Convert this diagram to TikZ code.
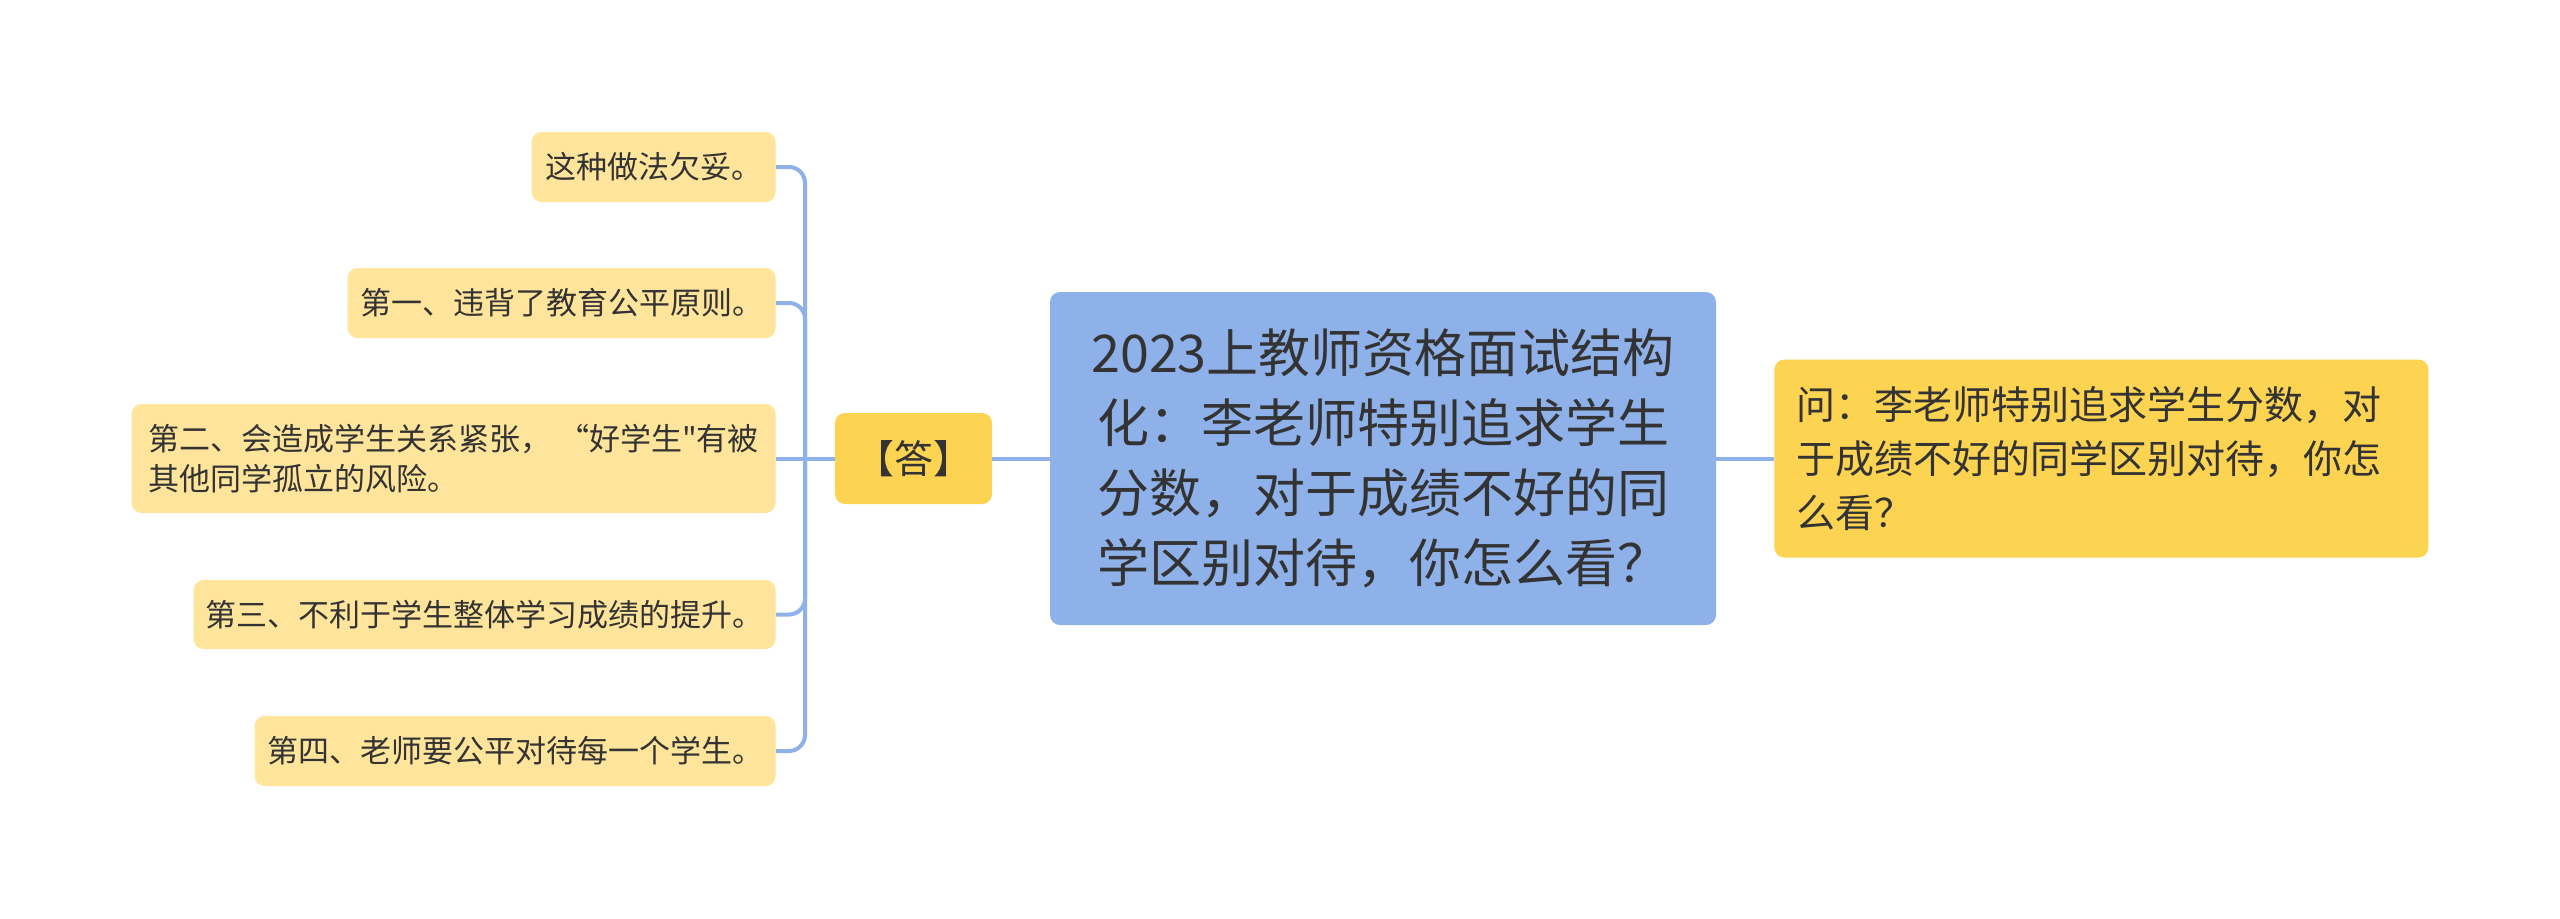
\documentclass[tikz,border=0pt]{standalone}
\usepackage{fontspec}
\newfontfamily\cjk{Noto Sans CJK SC}
\definecolor{cblue}{HTML}{8FB1E9}
\definecolor{cgold}{HTML}{FDD352}
\definecolor{cleaf}{HTML}{FFE59B}
\definecolor{ctext}{HTML}{333333}
\tikzset{
  box/.style={rounded corners=5pt, inner sep=0pt, text=ctext},
  leaf/.style={box, fill=cleaf, anchor=east, minimum height=35pt,
    font=\cjk\fontsize{15.5pt}{20pt}\selectfont, align=left},
  link/.style={draw=cblue, line width=2pt},
}
\begin{document}
\begin{tikzpicture}[x=0.5pt,y=-0.5pt]
\useasboundingbox (0,0) rectangle (2560,918);
\fill[white] (0,0) rectangle (2560,918);
% central
\node[box, fill=cblue, minimum width=333pt, minimum height=166.5pt,
  font=\cjk\fontsize{26pt}{35pt}\selectfont, align=center] (c) at (1383,458.5)
  {2023上教师资格面试结构\\化：李老师特别追求学生\\分数，对于成绩不好的同\\学区别对待，你怎么看？};
% question
\node[box, fill=cgold, anchor=west, minimum width=327pt, minimum height=99pt,
  inner xsep=11pt, text width=305pt, align=left,
  font=\cjk\fontsize{19.5pt}{27pt}\selectfont] (q) at (1774,458.5)
  {问：李老师特别追求学生分数，对\\于成绩不好的同学区别对待，你怎\\么看？};
% answer
\node[box, fill=cgold, minimum width=78.5pt, minimum height=45.5pt,
  font=\cjk\fontsize{19.5pt}{24pt}\selectfont] (da) at (913.5,458.5) {【答】};
% leaves
\node[leaf, minimum width=122pt] (n1) at (776,167) {这种做法欠妥。};
\node[leaf, minimum width=214pt] (n2) at (776,303) {第一、违背了教育公平原则。};
\node[leaf, minimum width=322pt, minimum height=54.5pt] (n3) at (776,458.5)
  {第二、会造成学生关系紧张， “好学生"有被\\其他同学孤立的风险。};
\node[leaf, minimum width=291pt, minimum height=34.5pt] (n4) at (776,614.5) {第三、不利于学生整体学习成绩的提升。};
\node[leaf, minimum width=260.5pt] (n5) at (776,751) {第四、老师要公平对待每一个学生。};
% connectors
\coordinate (t) at (805,458.5);
\draw[link] (c.west) -- (da.east);
\draw[link] (c.east) -- (q.west);
\draw[link] (da.west) -- (n3.east);
\draw[link, rounded corners=8pt] (t) |- (n1.east);
\draw[link, rounded corners=8pt] (t) |- (n2.east);
\draw[link, rounded corners=8pt] (t) |- (n4.east);
\draw[link, rounded corners=8pt] (t) |- (n5.east);
\end{tikzpicture}
\end{document}
